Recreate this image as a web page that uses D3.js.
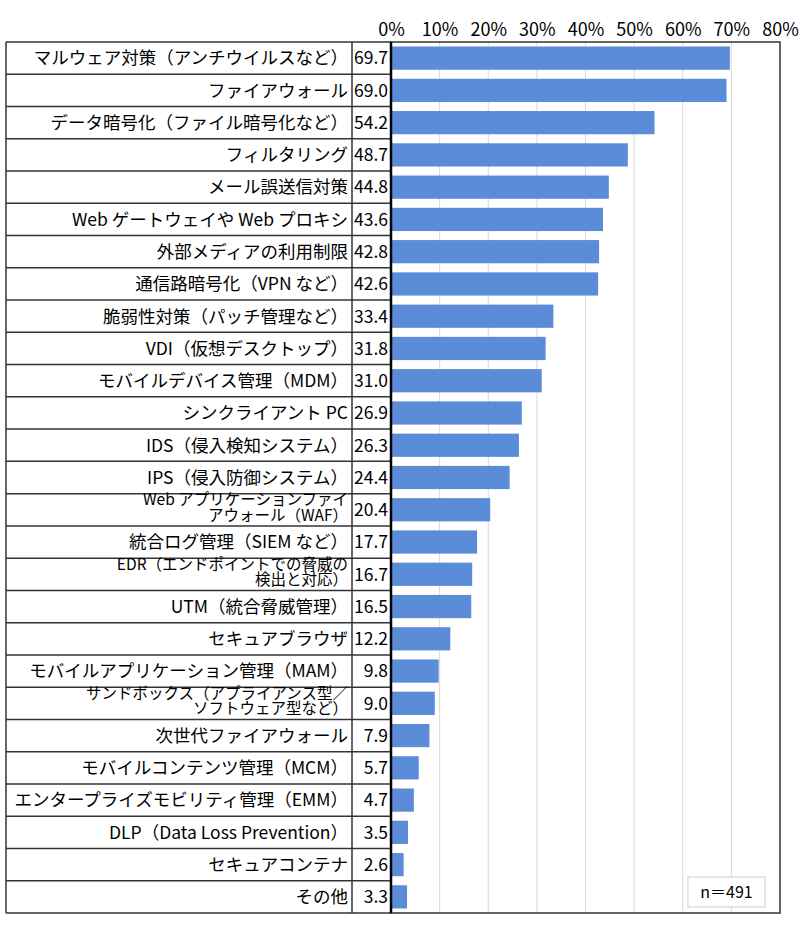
<!DOCTYPE html>
<html lang="ja">
<head>
<meta charset="utf-8">
<title>security measures</title>
<script src="https://cdn.jsdelivr.net/npm/d3@7"></script>
<style>
body { margin: 0; background: #fff; }
text { font-family: "Noto Sans CJK JP", "Noto Sans", sans-serif; fill: #000; }
</style>
</head>
<body>
<script>
var w = 800, h = 932;

// categories (a "\n" marks the line break in two-line labels)
var categories = [
  "マルウェア対策（アンチウイルスなど）",
  "ファイアウォール",
  "データ暗号化（ファイル暗号化など）",
  "フィルタリング",
  "メール誤送信対策",
  "Web ゲートウェイや Web プロキシ",
  "外部メディアの利用制限",
  "通信路暗号化（VPN など）",
  "脆弱性対策（パッチ管理など）",
  "VDI（仮想デスクトップ）",
  "モバイルデバイス管理（MDM）",
  "シンクライアント PC",
  "IDS（侵入検知システム）",
  "IPS（侵入防御システム）",
  "Web アプリケーションファイ\nアウォール（WAF）",
  "統合ログ管理（SIEM など）",
  "EDR（エンドポイントでの脅威の\n検出と対応）",
  "UTM（統合脅威管理）",
  "セキュアブラウザ",
  "モバイルアプリケーション管理（MAM）",
  "サンドボックス（アプライアンス型／\nソフトウェア型など）",
  "次世代ファイアウォール",
  "モバイルコンテンツ管理（MCM）",
  "エンタープライズモビリティ管理（EMM）",
  "DLP（Data Loss Prevention）",
  "セキュアコンテナ",
  "その他"
];
var values = [69.7, 69.0, 54.2, 48.7, 44.8, 43.6, 42.8, 42.6, 33.4, 31.8, 31.0, 26.9,
  26.3, 24.4, 20.4, 17.7, 16.7, 16.5, 12.2, 9.8, 9.0, 7.9, 5.7, 4.7, 3.5, 2.6, 3.3];
var tickValues = [0, 10, 20, 30, 40, 50, 60, 70, 80];
var noteText = "n＝491";

var data = categories.map(function(c, i) { return { label: c, value: values[i] }; });

var tableLeft = 6, valueLeft = 352, chartLeft = 391, chartRight = 780;
var chartTop = 42, chartBottom = 913;

var x = d3.scaleLinear().domain([0, 80]).range([chartLeft, chartRight]);
var y = d3.scaleBand().domain(d3.range(data.length)).range([chartTop, chartBottom]);
var yBar = d3.scaleBand().domain(d3.range(data.length)).range([chartTop, chartBottom]).paddingInner(0.28).paddingOuter(0.14);

var svg = d3.select("body").append("svg")
  .attr("width", w)
  .attr("height", h);

// gridlines
svg.append("g")
  .selectAll("line")
  .data(tickValues.slice(1, -1))
  .enter()
  .append("line")
  .attr("x1", function(d) { return x(d); })
  .attr("x2", function(d) { return x(d); })
  .attr("y1", chartTop)
  .attr("y2", chartBottom)
  .attr("stroke", "#d9d9d9")
  .attr("stroke-width", 1);

// top axis (labels only)
var xAxis = d3.axisTop(x)
  .tickValues(tickValues)
  .tickSize(0)
  .tickPadding(0)
  .tickFormat(function(d) { return d + "%"; });
var ax = svg.append("g")
  .attr("transform", "translate(0," + 36 + ")")
  .call(xAxis);
ax.select(".domain").remove();
ax.selectAll("text")
  .attr("font-size", "18px")
  .attr("font-family", "\"Noto Sans CJK JP\", sans-serif")
  .attr("fill", "#000")
  .attr("dy", "0");

// bars
svg.append("g")
  .selectAll("rect")
  .data(data)
  .enter()
  .append("rect")
  .attr("x", x(0))
  .attr("y", function(d, i) { return yBar(i); })
  .attr("width", function(d) { return x(d.value) - x(0); })
  .attr("height", yBar.bandwidth())
  .attr("fill", "#5b8cd8");

// table row lines
svg.append("g")
  .selectAll("line")
  .data(d3.range(data.length + 1))
  .enter()
  .append("line")
  .attr("x1", tableLeft)
  .attr("x2", chartLeft)
  .attr("y1", function(i) { return i < data.length ? y(i) : chartBottom; })
  .attr("y2", function(i) { return i < data.length ? y(i) : chartBottom; })
  .attr("stroke", "#333")
  .attr("stroke-width", 1.5);

// table vertical lines
svg.append("g")
  .selectAll("line")
  .data([tableLeft, valueLeft])
  .enter()
  .append("line")
  .attr("x1", function(d) { return d; })
  .attr("x2", function(d) { return d; })
  .attr("y1", chartTop)
  .attr("y2", chartBottom)
  .attr("stroke", "#333")
  .attr("stroke-width", 1.5);

// chart border
svg.append("rect")
  .attr("x", chartLeft)
  .attr("y", chartTop)
  .attr("width", chartRight - chartLeft)
  .attr("height", chartBottom - chartTop)
  .attr("fill", "none")
  .attr("stroke", "#333")
  .attr("stroke-width", 1.5);
svg.append("line")
  .attr("x1", chartLeft).attr("x2", chartLeft)
  .attr("y1", chartTop).attr("y2", chartBottom)
  .attr("stroke", "#000")
  .attr("stroke-width", 2.5);

// category labels
var labels = svg.append("g")
  .selectAll("text")
  .data(data)
  .enter()
  .append("text")
  .attr("text-anchor", "end")
  .attr("x", valueLeft - 4)
  .attr("y", function(d, i) { return y(i) + y.bandwidth() / 2; })
  .attr("font-size", function(d) { return d.label.indexOf("\n") >= 0 ? "15.5px" : "17.5px"; });

labels.each(function(d) {
  var lines = d.label.split("\n");
  var t = d3.select(this);
  if (lines.length === 1) {
    t.append("tspan").attr("dy", "0.36em").text(lines[0]);
  } else {
    t.append("tspan").attr("x", valueLeft - 4).attr("dy", "-0.3em").text(lines[0]);
    t.append("tspan").attr("x", valueLeft - 4).attr("dy", "1em").text(lines[1]);
  }
});

// value labels
svg.append("g")
  .selectAll("text")
  .data(data)
  .enter()
  .append("text")
  .attr("text-anchor", "end")
  .attr("x", chartLeft - 3)
  .attr("y", function(d, i) { return y(i) + y.bandwidth() / 2; })
  .attr("dy", "0.36em")
  .attr("font-size", "17.5px")
  .text(function(d) { return d.value.toFixed(1); });

// n note box
svg.append("rect")
  .attr("x", 688)
  .attr("y", 877)
  .attr("width", 77)
  .attr("height", 30)
  .attr("fill", "#fff")
  .attr("stroke", "#d0d0d0")
  .attr("stroke-width", 1);
svg.append("text")
  .attr("x", 726.5)
  .attr("y", 892)
  .attr("dy", "0.36em")
  .attr("text-anchor", "middle")
  .attr("font-size", "16px")
  .text(noteText);
</script>
</body>
</html>
